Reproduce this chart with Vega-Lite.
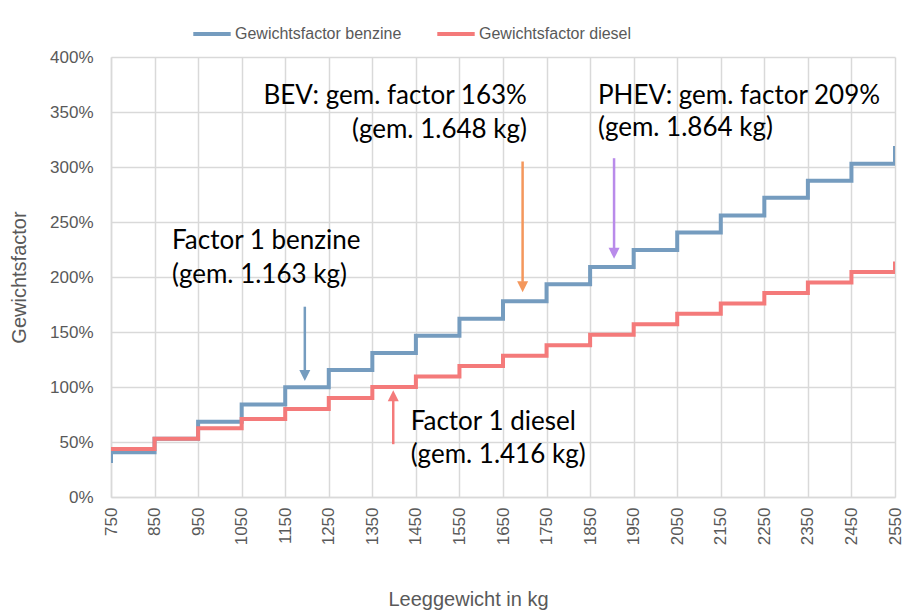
{
  "$schema": "https://vega.github.io/schema/vega-lite/v6.json",
  "width": 784,
  "height": 440,
  "autosize": {"type": "none"},
  "padding": {"left": 111, "top": 57, "right": 8, "bottom": 113},
  "background": "white",
  "config": {
    "view": {"stroke": null},
    "font": "Liberation Sans",
    "axis": {
      "labelFont": "Liberation Sans",
      "titleFont": "Liberation Sans",
      "labelColor": "#595959",
      "titleColor": "#595959",
      "labelFontSize": 17,
      "titleFontSize": 20,
      "titleFontWeight": "normal",
      "gridColor": "#D9D9D9",
      "gridWidth": 1.5,
      "domainColor": "#D9D9D9",
      "domainWidth": 1.5,
      "ticks": false
    }
  },
  "resolve": {"scale": {"color": "independent"}},
  "datasets": {
    "lijnen": [
      {"kg": 750, "factor": 0.31, "brandstof": "Gewichtsfactor benzine", "o": 0},
      {"kg": 850, "factor": 0.406, "brandstof": "Gewichtsfactor benzine", "o": 1},
      {"kg": 950, "factor": 0.53, "brandstof": "Gewichtsfactor benzine", "o": 2},
      {"kg": 1050, "factor": 0.685, "brandstof": "Gewichtsfactor benzine", "o": 3},
      {"kg": 1150, "factor": 0.84, "brandstof": "Gewichtsfactor benzine", "o": 4},
      {"kg": 1250, "factor": 0.997, "brandstof": "Gewichtsfactor benzine", "o": 5},
      {"kg": 1350, "factor": 1.155, "brandstof": "Gewichtsfactor benzine", "o": 6},
      {"kg": 1450, "factor": 1.31, "brandstof": "Gewichtsfactor benzine", "o": 7},
      {"kg": 1550, "factor": 1.465, "brandstof": "Gewichtsfactor benzine", "o": 8},
      {"kg": 1650, "factor": 1.62, "brandstof": "Gewichtsfactor benzine", "o": 9},
      {"kg": 1750, "factor": 1.78, "brandstof": "Gewichtsfactor benzine", "o": 10},
      {"kg": 1850, "factor": 1.935, "brandstof": "Gewichtsfactor benzine", "o": 11},
      {"kg": 1950, "factor": 2.09, "brandstof": "Gewichtsfactor benzine", "o": 12},
      {"kg": 2050, "factor": 2.245, "brandstof": "Gewichtsfactor benzine", "o": 13},
      {"kg": 2150, "factor": 2.405, "brandstof": "Gewichtsfactor benzine", "o": 14},
      {"kg": 2250, "factor": 2.56, "brandstof": "Gewichtsfactor benzine", "o": 15},
      {"kg": 2350, "factor": 2.72, "brandstof": "Gewichtsfactor benzine", "o": 16},
      {"kg": 2450, "factor": 2.875, "brandstof": "Gewichtsfactor benzine", "o": 17},
      {"kg": 2550, "factor": 3.03, "brandstof": "Gewichtsfactor benzine", "o": 18},
      {"kg": 2550, "factor": 3.19, "brandstof": "Gewichtsfactor benzine", "o": 19},
      {"kg": 750, "factor": 0.436, "brandstof": "Gewichtsfactor diesel", "o": 0},
      {"kg": 850, "factor": 0.436, "brandstof": "Gewichtsfactor diesel", "o": 1},
      {"kg": 950, "factor": 0.53, "brandstof": "Gewichtsfactor diesel", "o": 2},
      {"kg": 1050, "factor": 0.624, "brandstof": "Gewichtsfactor diesel", "o": 3},
      {"kg": 1150, "factor": 0.71, "brandstof": "Gewichtsfactor diesel", "o": 4},
      {"kg": 1250, "factor": 0.8, "brandstof": "Gewichtsfactor diesel", "o": 5},
      {"kg": 1350, "factor": 0.9, "brandstof": "Gewichtsfactor diesel", "o": 6},
      {"kg": 1450, "factor": 1.0, "brandstof": "Gewichtsfactor diesel", "o": 7},
      {"kg": 1550, "factor": 1.095, "brandstof": "Gewichtsfactor diesel", "o": 8},
      {"kg": 1650, "factor": 1.19, "brandstof": "Gewichtsfactor diesel", "o": 9},
      {"kg": 1750, "factor": 1.285, "brandstof": "Gewichtsfactor diesel", "o": 10},
      {"kg": 1850, "factor": 1.38, "brandstof": "Gewichtsfactor diesel", "o": 11},
      {"kg": 1950, "factor": 1.475, "brandstof": "Gewichtsfactor diesel", "o": 12},
      {"kg": 2050, "factor": 1.57, "brandstof": "Gewichtsfactor diesel", "o": 13},
      {"kg": 2150, "factor": 1.665, "brandstof": "Gewichtsfactor diesel", "o": 14},
      {"kg": 2250, "factor": 1.76, "brandstof": "Gewichtsfactor diesel", "o": 15},
      {"kg": 2350, "factor": 1.855, "brandstof": "Gewichtsfactor diesel", "o": 16},
      {"kg": 2450, "factor": 1.95, "brandstof": "Gewichtsfactor diesel", "o": 17},
      {"kg": 2550, "factor": 2.045, "brandstof": "Gewichtsfactor diesel", "o": 18},
      {"kg": 2550, "factor": 2.14, "brandstof": "Gewichtsfactor diesel", "o": 19}
    ],
    "pijlen": [
      {"naam": "benzine", "kg": 1195, "start": 1.73, "basis": 1.15, "kop": 1.105, "richting": "omlaag"},
      {"naam": "diesel", "kg": 1398, "start": 0.48, "basis": 0.876, "kop": 0.921, "richting": "omhoog"},
      {"naam": "BEV", "kg": 1695, "start": 3.05, "basis": 1.956, "kop": 1.911, "richting": "omlaag"},
      {"naam": "PHEV", "kg": 1905, "start": 3.08, "basis": 2.26, "kop": 2.215, "richting": "omlaag"}
    ],
    "teksten": [
      {"kg": 1705, "factor": 3.645, "tekst": "BEV: gem. factor 163%", "uitlijning": "rechts"},
      {"kg": 1705, "factor": 3.336, "tekst": "(gem. 1.648 kg)", "uitlijning": "rechts"},
      {"kg": 1868, "factor": 3.645, "tekst": "PHEV: gem. factor 209%", "uitlijning": "links"},
      {"kg": 1868, "factor": 3.355, "tekst": "(gem. 1.864 kg)", "uitlijning": "links"},
      {"kg": 890, "factor": 2.327, "tekst": "Factor 1 benzine", "uitlijning": "links"},
      {"kg": 890, "factor": 2.018, "tekst": "(gem. 1.163 kg)", "uitlijning": "links"},
      {"kg": 1438, "factor": 0.685, "tekst": "Factor 1 diesel", "uitlijning": "links"},
      {"kg": 1438, "factor": 0.386, "tekst": "(gem. 1.416 kg)", "uitlijning": "links"}
    ]
  },
  "layer": [
    {
      "data": {"name": "lijnen"},
      "mark": {"type": "line", "interpolate": "step-before", "strokeWidth": 4, "clip": true},
      "encoding": {
        "x": {
          "field": "kg",
          "type": "quantitative",
          "scale": {"domain": [750, 2550], "nice": false, "zero": false},
          "axis": {
            "values": [750, 850, 950, 1050, 1150, 1250, 1350, 1450, 1550, 1650, 1750, 1850, 1950, 2050, 2150, 2250, 2350, 2450, 2550],
            "labelAngle": 270,
            "labelAlign": "right",
            "labelBaseline": "middle",
            "labelPadding": 10,
            "format": "d",
            "title": "Leeggewicht in kg",
            "titleX": 357,
            "titlePadding": 45,
            "labelFlush": false,
            "labelOverlap": false
          }
        },
        "y": {
          "field": "factor",
          "type": "quantitative",
          "scale": {"domain": [0, 4], "nice": false},
          "axis": {
            "values": [0, 0.5, 1, 1.5, 2, 2.5, 3, 3.5, 4],
            "format": ".0%",
            "labelPadding": 18,
            "title": "Gewichtsfactor",
            "titlePadding": 20
          }
        },
        "color": {
          "field": "brandstof",
          "type": "nominal",
          "scale": {"domain": ["Gewichtsfactor benzine", "Gewichtsfactor diesel"], "range": ["#759CBF", "#F47A7A"]},
          "legend": {
            "title": null,
            "orient": "none",
            "direction": "horizontal",
            "legendX": 80,
            "legendY": -44,
            "symbolType": "stroke",
            "symbolSize": 1400,
            "symbolStrokeWidth": 4,
            "labelFontSize": 16,
            "labelColor": "#595959",
            "labelFont": "Liberation Sans",
            "labelOffset": 2,
            "labelLimit": 0,
            "columnPadding": 27
          }
        },
        "order": {"field": "o", "type": "quantitative"}
      }
    },
    {
      "data": {"name": "pijlen"},
      "mark": {"type": "rule", "strokeWidth": 2.5},
      "encoding": {
        "x": {"field": "kg", "type": "quantitative"},
        "y": {"field": "start", "type": "quantitative"},
        "y2": {"field": "basis"},
        "color": {"field": "naam", "type": "nominal", "scale": {"domain": ["benzine", "diesel", "BEV", "PHEV"], "range": ["#759CBF", "#F47A7A", "#F4975C", "#B98BEA"]}, "legend": null}
      }
    },
    {
      "data": {"name": "pijlen"},
      "transform": [{"filter": "datum.richting == 'omlaag'"}],
      "mark": {"type": "point", "shape": "M-1,-1L1,-1L0,1Z", "filled": true, "size": 121, "opacity": 1},
      "encoding": {
        "x": {"field": "kg", "type": "quantitative"},
        "y": {"field": "kop", "type": "quantitative"},
        "color": {"field": "naam", "type": "nominal", "scale": {"domain": ["benzine", "diesel", "BEV", "PHEV"], "range": ["#759CBF", "#F47A7A", "#F4975C", "#B98BEA"]}, "legend": null}
      }
    },
    {
      "data": {"name": "pijlen"},
      "transform": [{"filter": "datum.richting == 'omhoog'"}],
      "mark": {"type": "point", "shape": "M-1,1L1,1L0,-1Z", "filled": true, "size": 121, "opacity": 1},
      "encoding": {
        "x": {"field": "kg", "type": "quantitative"},
        "y": {"field": "kop", "type": "quantitative"},
        "color": {"field": "naam", "type": "nominal", "scale": {"domain": ["benzine", "diesel", "BEV", "PHEV"], "range": ["#759CBF", "#F47A7A", "#F4975C", "#B98BEA"]}, "legend": null}
      }
    },
    {
      "data": {"name": "teksten"},
      "transform": [{"filter": "datum.uitlijning == 'links'"}],
      "mark": {"type": "text", "align": "left", "baseline": "middle", "font": "Lato", "fontSize": 26, "color": "#000000"},
      "encoding": {
        "x": {"field": "kg", "type": "quantitative"},
        "y": {"field": "factor", "type": "quantitative"},
        "text": {"field": "tekst"}
      }
    },
    {
      "data": {"name": "teksten"},
      "transform": [{"filter": "datum.uitlijning == 'rechts'"}],
      "mark": {"type": "text", "align": "right", "baseline": "middle", "font": "Lato", "fontSize": 26, "color": "#000000"},
      "encoding": {
        "x": {"field": "kg", "type": "quantitative"},
        "y": {"field": "factor", "type": "quantitative"},
        "text": {"field": "tekst"}
      }
    }
  ]
}
